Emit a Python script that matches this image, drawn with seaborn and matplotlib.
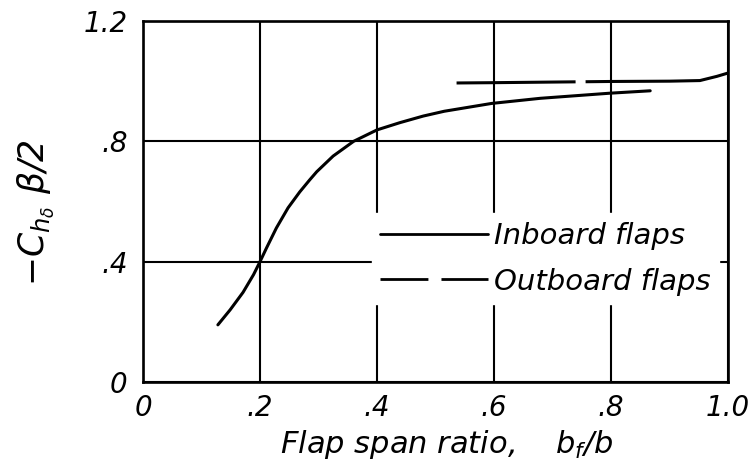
import matplotlib
matplotlib.use("Agg")
import matplotlib.pyplot as plt
from matplotlib.lines import Line2D
import seaborn as sns

# Flap span ratio vs. hinge-moment parameter
inboard_x = [0.128, 0.149, 0.171, 0.189, 0.200, 0.211, 0.228, 0.248, 0.268,
             0.285, 0.297, 0.325, 0.360, 0.400, 0.439, 0.479, 0.515, 0.596,
             0.679, 0.798, 0.867]
inboard_y = [0.190, 0.240, 0.298, 0.357, 0.400, 0.445, 0.512, 0.579, 0.632,
             0.672, 0.699, 0.751, 0.800, 0.838, 0.862, 0.884, 0.900, 0.926,
             0.943, 0.960, 0.968]

outboard_x = [0.536, 0.600, 0.700, 0.800, 0.900, 0.952, 0.981, 1.000]
outboard_y = [0.994, 0.995, 0.997, 0.999, 1.000, 1.002, 1.016, 1.027]

x_ticks = [0.0, 0.2, 0.4, 0.6, 0.8, 1.0]
x_tick_labels = ["0", ".2", ".4", ".6", ".8", "1.0"]
y_ticks = [0.0, 0.4, 0.8, 1.2]
y_tick_labels = ["0", ".4", ".8", "1.2"]

series_labels = ["Inboard flaps", "Outboard flaps"]

sns.set_theme(style="white")
plt.rcParams["font.family"] = ["DejaVu Sans"]
plt.rcParams["font.style"] = "italic"
plt.rcParams["mathtext.fontset"] = "dejavusans"
plt.rcParams["lines.scale_dashes"] = False
plt.rcParams["text.color"] = "black"
plt.rcParams["axes.labelcolor"] = "black"
plt.rcParams["xtick.color"] = "black"
plt.rcParams["ytick.color"] = "black"

fig = plt.figure(figsize=(7.56, 4.68), dpi=100)
ax = fig.add_axes([143 / 756, 1 - 382 / 468, 585 / 756, 361 / 468])

curve_lw = 2.2
sns.lineplot(x=inboard_x, y=inboard_y, ax=ax, color="black", lw=curve_lw,
             sort=True, zorder=3)
sns.lineplot(x=outboard_x, y=outboard_y, ax=ax, color="black", lw=curve_lw,
             sort=True, zorder=3, linestyle=(0, (85.7, 7.2, 300, 10)))

ax.set_xlim(0, 1.0)
ax.set_ylim(0, 1.2)
ax.set_xticks(x_ticks)
ax.set_xticklabels(x_tick_labels, fontsize=20, style="italic")
ax.set_yticks(y_ticks)
ax.set_yticklabels(y_tick_labels, fontsize=20, style="italic")
ax.tick_params(axis="both", length=0)
ax.tick_params(axis="x", pad=9)
ax.tick_params(axis="y", pad=11)

ax.grid(True, color="black", lw=1.5, zorder=1)
ax.set_axisbelow(True)
for s in ax.spines.values():
    s.set_color("black")
    s.set_linewidth(1.9)

ax.set_xlabel(r"Flap span ratio,    $b_f/b$", fontsize=22, style="italic")
ax.xaxis.set_label_coords(0.52, -0.128)
ax.set_ylabel(r"$-C_{h_\delta}\ \beta/2$", fontsize=25)
ax.yaxis.set_label_coords(-0.148, 0.47)

handles = [
    Line2D([], [], color="black", lw=2.0),
    Line2D([], [], color="black", lw=2.0, linestyle=(0, (34.5, 9.4))),
]
leg = ax.legend(handles, series_labels, loc="center",
                bbox_to_anchor=(0.688, 0.341), fontsize=21,
                handlelength=3.7, handletextpad=0.2, labelspacing=0.6,
                borderpad=0.3, borderaxespad=0, frameon=True, fancybox=False,
                framealpha=1.0, facecolor="white", edgecolor="white")
for t in leg.get_texts():
    t.set_fontstyle("italic")
    t.set_color("black")
leg.set_zorder(2)

fig.savefig("out.png", dpi=100)
